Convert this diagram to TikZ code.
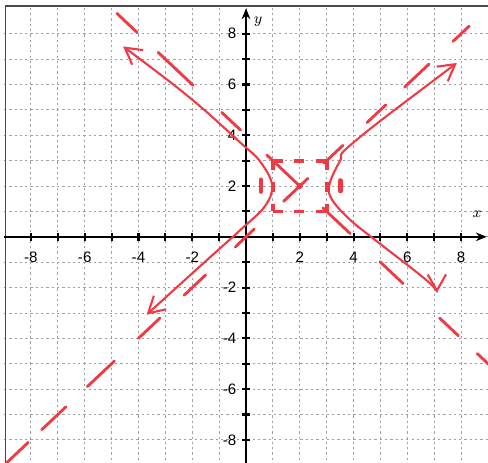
\documentclass[tikz,border=0pt]{standalone}
\usepackage{fontspec}
\setmainfont{Liberation Sans}
\usetikzlibrary{arrows.meta}
\definecolor{inkred}{HTML}{EE3A45}
\definecolor{gridgray}{HTML}{A0A0A0}
\definecolor{framegray}{HTML}{4A4A4A}

\begin{document}
\begin{tikzpicture}[
    x=5mm,y=4.72mm,
    every node/.style={font=\footnotesize,inner sep=1pt},
    gridline/.style={gridgray,line width=0.45pt,dash pattern=on 1.2pt off 1.6pt},
    frameline/.style={framegray,line width=0.9pt},
    axisline/.style={-{Stealth[length=2mm,width=1.6mm]},line width=1.1pt},
    axistick/.style={line width=1.1pt},
    asym/.style={inkred,line width=1.5pt,line cap=round},
    boxline/.style={inkred,line width=2pt,dash pattern=on 1.8mm off 2.2mm},
    branch/.style={inkred,line width=1.1pt,line cap=round,
                   {Straight Barb[length=3mm,width=3.4mm]}-{Straight Barb[length=3mm,width=3.4mm]}},
    focusmark/.style={inkred,line width=2.4pt,line cap=round}
]
\useasboundingbox (-9.15,-8.9) rectangle (9,9.33);
\foreach \k in {-8,...,8} {
  \draw[gridline] (\k,-9) -- (\k,9);
  \draw[gridline] (-9,\k) -- (9,\k);
}
\draw[frameline] (-8.95,-9) -- (-8.95,9.1) -- (9,9.1);
\draw[axisline] (-9,0) -- (8.95,0);
\draw[axisline] (0,-9) -- (0,9);
\foreach \k in {-8,...,8} {
  \draw[axistick] (\k,-0.16) -- (\k,0.16);
  \draw[axistick] (-0.14,\k) -- (0.14,\k);
}
\foreach \k in {-8,-6,-4,-2,2,4,6,8} {
  \node (xl\k) at (\k,-0.8) {\k};
  \node[anchor=east] (yl\k) at (-0.28,\k) {\k};
}
\node (xlab) at (8.6,0.87) {$x$};
\node (ylab) at (0.45,8.46) {$y$};

\foreach \a/\b in {-9.2/-8.1,-7.6/-6.7,-5.9/-4.9,-4.0/-3.2,-2.3/-1.5,-0.4/0.3,
                   1.4/2.3,2.9/3.6,4.5/5.2,5.9/6.8,7.7/8.3}
  \draw[asym] (\a,\a) -- (\b,\b);
\foreach \a/\b in {-4.8/-4.05,-3.27/-1.97,-0.9/-0.2,0.78/2.0,2.86/3.87,
                   4.98/5.84,7.2/7.9,8.6/9.1}
  \draw[asym] ({\a},{4-\a}) -- ({\b},{4-\b});

\coordinate (ctr) at (2,2);
\draw[boxline] (1,3) -- (3,3);
\draw[boxline] (1,1) -- (3,1);
\draw[boxline] (1,3) -- (1,1);
\draw[boxline] (3,3) -- (3,1);
\fill[inkred] (ctr) circle (1.6pt);
\draw[focusmark] (0.55,1.78) -- (0.55,2.25);
\draw[focusmark] (3.52,1.8) -- (3.52,2.22);

\draw[branch] plot[smooth,tension=0.6] coordinates {(-4.57,7.5) (-2,5.4) (-0.2,3.7)
  (0.5,3.0) (0.97,2.05) (0.7,1.2) (-0.2,0.28) (-1.7,-1.15) (-3.7,-3.07)};
\draw[branch] plot[smooth,tension=0.6] coordinates {(7.84,6.85) (3.98,3.7) (3.5,3.0)
  (3.1,2.05) (3.2,1.46) (3.87,0.67) (4.7,-0.04) (6.7,-1.7) (7.1,-2.2)};
\end{tikzpicture}
\end{document}
